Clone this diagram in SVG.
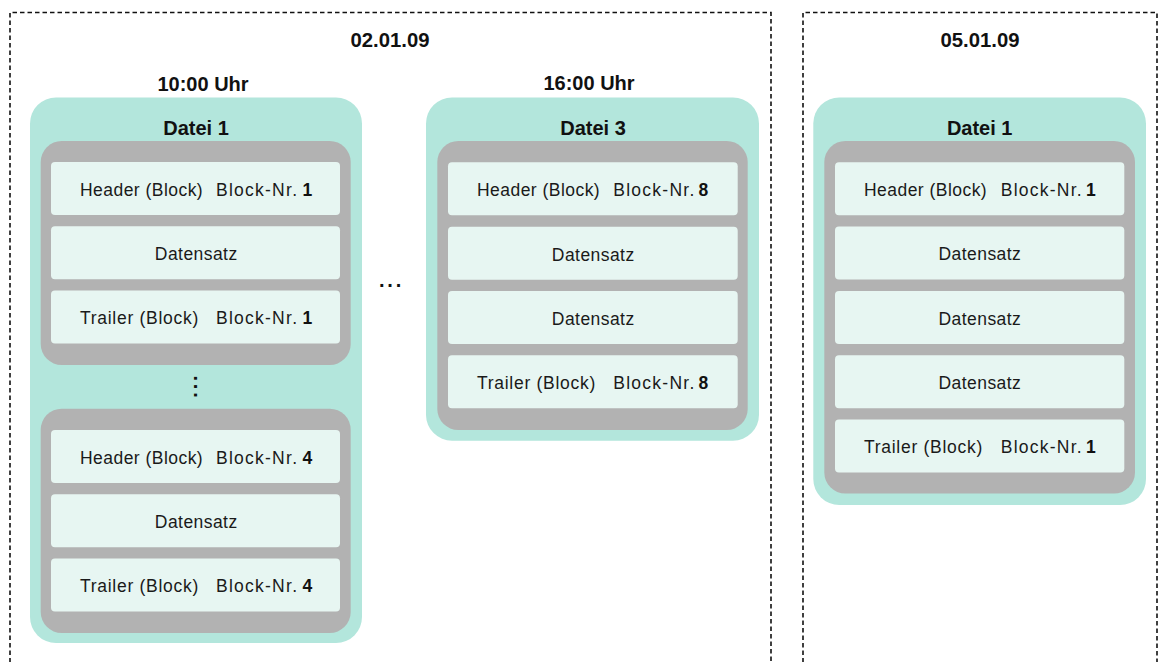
<svg xmlns="http://www.w3.org/2000/svg" width="1165" height="662" viewBox="0 0 1165 662">
<style>
.frame{fill:none;stroke:#111;stroke-width:1.6;stroke-dasharray:4.5 3}
.file{fill:#b3e6dc}
.blk{fill:#b2b2b2}
.row{fill:#e7f6f2}
.t{font-family:"Liberation Sans",Arial,sans-serif;fill:#1a1a1a}
.h{font-size:20px;font-weight:bold;text-anchor:middle;fill:#111}
.r{font-size:17.5px}
.c{text-anchor:middle}
.b{font-weight:bold;fill:#111}
.dots{font-family:"Liberation Sans",Arial,sans-serif;font-size:20px;font-weight:bold;fill:#111;letter-spacing:2.8px;text-anchor:middle}
</style>
<g id="connectors"></g>
<g id="day1">
<path class="frame" d="M10,670 V12.5 H771 V670"/>
<text class="t h" x="390" y="47.3" textLength="79" lengthAdjust="spacingAndGlyphs">02.01.09</text>
<text class="t h" x="203" y="90.5">10:00 Uhr</text>
<text class="t h" x="589" y="90">16:00 Uhr</text>
<text class="dots" x="391.5" y="286.5">...</text>
</g>
<g id="day2">
<path class="frame" d="M803,670 V12.5 H1157 V670"/>
<text class="t h" x="980" y="47.3" textLength="79" lengthAdjust="spacingAndGlyphs">05.01.09</text>
</g>
<g id="file-a">
<rect class="file" x="30" y="97.5" width="332" height="545.5" rx="26"/>
<text class="t h" x="196" y="135">Datei 1</text>
<g id="file-a-block1">
<rect class="blk" x="40.7" y="141" width="310" height="224" rx="21"/>
<rect class="row" x="51" y="162" width="289" height="53" rx="4"/>
<text class="t r" x="80" y="195.8" textLength="122.7" lengthAdjust="spacing">Header (Block)</text>
<text class="t r" x="216" y="195.8" textLength="81" lengthAdjust="spacing">Block-Nr.</text>
<text class="t r b" x="302.5" y="195.8">1</text>
<rect class="row" x="51" y="226.3" width="289" height="53" rx="4"/>
<text class="t r c" x="196" y="260.1" textLength="82.3" lengthAdjust="spacing">Datensatz</text>
<rect class="row" x="51" y="290.6" width="289" height="53" rx="4"/>
<text class="t r" x="80" y="324.4" textLength="118.3" lengthAdjust="spacing">Trailer (Block)</text>
<text class="t r" x="216" y="324.4" textLength="81" lengthAdjust="spacing">Block-Nr.</text>
<text class="t r b" x="302.5" y="324.4">1</text>
</g>
<text class="dots" transform="translate(194.3,388) rotate(90)" x="0" y="0">...</text>
<g id="file-a-block4">
<rect class="blk" x="40.7" y="408.7" width="310" height="224.3" rx="21"/>
<rect class="row" x="51" y="430" width="289" height="53" rx="4"/>
<text class="t r" x="80" y="463.8" textLength="122.7" lengthAdjust="spacing">Header (Block)</text>
<text class="t r" x="216" y="463.8" textLength="81" lengthAdjust="spacing">Block-Nr.</text>
<text class="t r b" x="302.5" y="463.8">4</text>
<rect class="row" x="51" y="494.3" width="289" height="53" rx="4"/>
<text class="t r c" x="196" y="528.1" textLength="82.3" lengthAdjust="spacing">Datensatz</text>
<rect class="row" x="51" y="558.6" width="289" height="53" rx="4"/>
<text class="t r" x="80" y="592.4" textLength="118.3" lengthAdjust="spacing">Trailer (Block)</text>
<text class="t r" x="216" y="592.4" textLength="81" lengthAdjust="spacing">Block-Nr.</text>
<text class="t r b" x="302.5" y="592.4">4</text>
</g>
</g>
<g id="file-b">
<rect class="file" x="426" y="97.5" width="333" height="343.2" rx="26"/>
<text class="t h" x="593" y="135">Datei 3</text>
<rect class="blk" x="437.3" y="141" width="310.4" height="289" rx="21"/>
<rect class="row" x="448" y="162.3" width="289.7" height="53" rx="4"/>
<text class="t r" x="477" y="196.1" textLength="122.7" lengthAdjust="spacing">Header (Block)</text>
<text class="t r" x="613.3" y="196.1" textLength="81" lengthAdjust="spacing">Block-Nr.</text>
<text class="t r b" x="698.5" y="196.1">8</text>
<rect class="row" x="448" y="226.8" width="289.7" height="53" rx="4"/>
<text class="t r c" x="593" y="260.6" textLength="82.3" lengthAdjust="spacing">Datensatz</text>
<rect class="row" x="448" y="291" width="289.7" height="53" rx="4"/>
<text class="t r c" x="593" y="324.8" textLength="82.3" lengthAdjust="spacing">Datensatz</text>
<rect class="row" x="448" y="355.2" width="289.7" height="53" rx="4"/>
<text class="t r" x="477" y="389" textLength="118.3" lengthAdjust="spacing">Trailer (Block)</text>
<text class="t r" x="613.3" y="389" textLength="81" lengthAdjust="spacing">Block-Nr.</text>
<text class="t r b" x="698.5" y="389">8</text>
</g>
<g id="file-c">
<rect class="file" x="813.3" y="97.5" width="332.7" height="407.5" rx="26"/>
<text class="t h" x="979.7" y="135">Datei 1</text>
<rect class="blk" x="824.3" y="141" width="310.7" height="352.5" rx="21"/>
<rect class="row" x="835" y="162.3" width="289.3" height="53" rx="4"/>
<text class="t r" x="864" y="196.1" textLength="122.7" lengthAdjust="spacing">Header (Block)</text>
<text class="t r" x="1000.7" y="196.1" textLength="81" lengthAdjust="spacing">Block-Nr.</text>
<text class="t r b" x="1086" y="196.1">1</text>
<rect class="row" x="835" y="226.6" width="289.3" height="53" rx="4"/>
<text class="t r c" x="979.7" y="260.4" textLength="82.3" lengthAdjust="spacing">Datensatz</text>
<rect class="row" x="835" y="290.9" width="289.3" height="53" rx="4"/>
<text class="t r c" x="979.7" y="324.7" textLength="82.3" lengthAdjust="spacing">Datensatz</text>
<rect class="row" x="835" y="355.2" width="289.3" height="53" rx="4"/>
<text class="t r c" x="979.7" y="389" textLength="82.3" lengthAdjust="spacing">Datensatz</text>
<rect class="row" x="835" y="419.5" width="289.3" height="53" rx="4"/>
<text class="t r" x="864" y="453.3" textLength="118.3" lengthAdjust="spacing">Trailer (Block)</text>
<text class="t r" x="1000.7" y="453.3" textLength="81" lengthAdjust="spacing">Block-Nr.</text>
<text class="t r b" x="1086" y="453.3">1</text>
</g>
</svg>
